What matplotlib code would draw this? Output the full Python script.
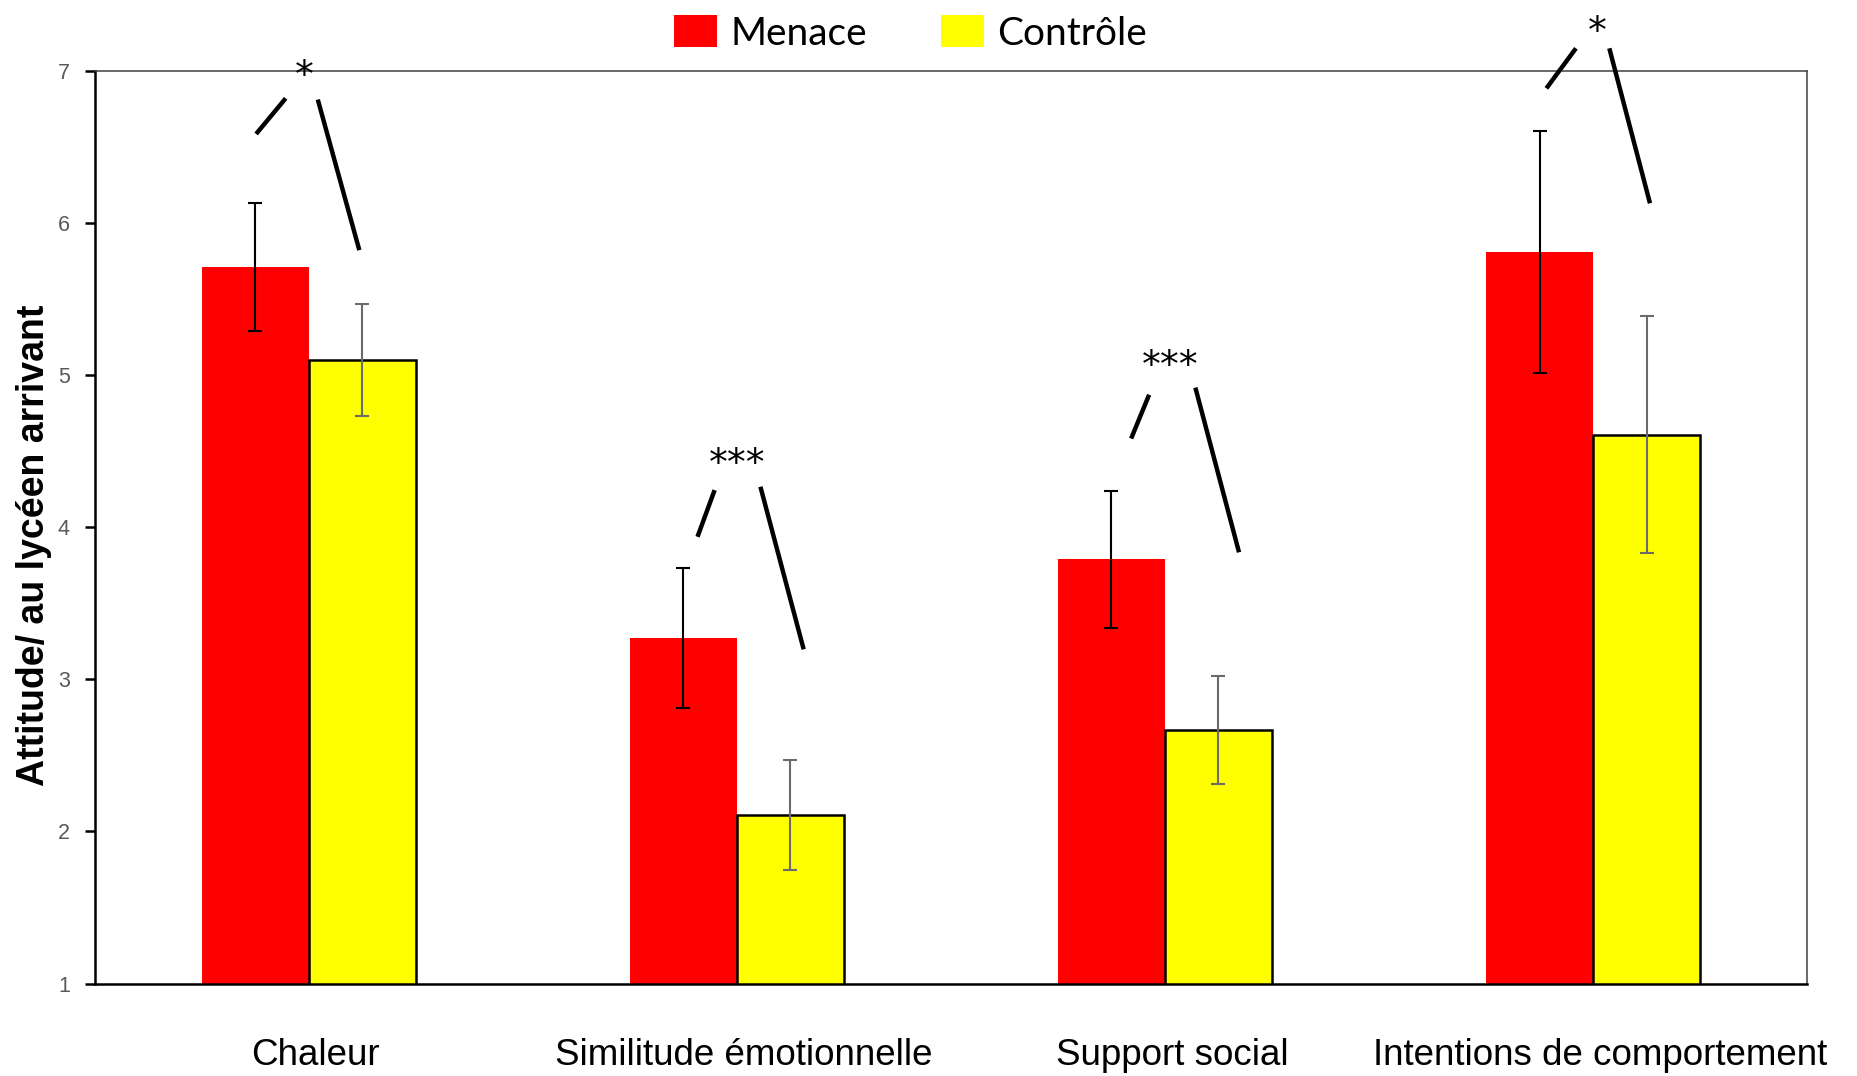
import matplotlib.pyplot as plt
import matplotlib.transforms as mtransforms
import numpy as np
from matplotlib.patches import Patch

# données
categories = ["Chaleur", "Similitude émotionnelle", "Support social",
              "Intentions de comportement"]
menace = [5.71, 3.27, 3.79, 5.81]
menace_err = [0.42, 0.46, 0.45, 0.795]
controle = [5.10, 2.11, 2.67, 4.61]
controle_err = [0.37, 0.36, 0.355, 0.78]
y_ticks = [1, 2, 3, 4, 5, 6, 7]

# seuils de significativité + segments (x0, y0, x1, y1) en unités des données
sig_labels = ["*", "***", "***", "*"]
sig_star = [(-0.01, 6.96), (1.0, 4.41), (2.012, 5.055), (3.009, 7.25)]
sig_left = [(-0.123, 6.587, -0.054, 6.821),
            (0.908, 3.938, 0.948, 4.245),
            (1.921, 4.584, 1.963, 4.872),
            (2.891, 6.887, 2.960, 7.150)]
sig_right = [(0.021, 6.813, 0.118, 5.823),
             (1.055, 4.267, 1.156, 3.198),
             (2.071, 4.919, 2.173, 3.836),
             (3.038, 7.150, 3.133, 6.131)]

fig = plt.figure(figsize=(18.58, 10.76), dpi=100)
ax = fig.add_axes([0.051, 0.0859, 0.9216, 0.848])

x = np.arange(len(categories))
w = 0.25
ax.bar(x - w / 2, menace, w, color="#FF0000", zorder=2)
ax.bar(x + w / 2, controle, w, color="#FFFF00", edgecolor="black",
       linewidth=1.8, zorder=2)
ax.errorbar(x - w / 2, menace, yerr=menace_err, fmt="none", ecolor="black",
            elinewidth=1.5, capsize=5, capthick=1.5, zorder=3)
ax.errorbar(x + w / 2, controle, yerr=controle_err, fmt="none",
            ecolor="#6b6b6b", elinewidth=1.5, capsize=5, capthick=1.5, zorder=3)

for lab, (sx, sy), l, r in zip(sig_labels, sig_star, sig_left, sig_right):
    ax.plot([l[0], l[2]], [l[1], l[3]], color="black", lw=3.2,
            clip_on=False, zorder=4, solid_capstyle="butt")
    ax.plot([r[0], r[2]], [r[1], r[3]], color="black", lw=3.2,
            clip_on=False, zorder=4, solid_capstyle="butt")
    ax.text(sx, sy, lab, ha="center", va="center", fontsize=27,
            family="DejaVu Sans", clip_on=False)

ax.set_xlim(-0.5, 3.5)
ax.set_ylim(1, 7)
ax.set_yticks(y_ticks)
ax.set_yticklabels([str(t) for t in y_ticks], color="#595959", fontsize=15.5,
                   family=["Liberation Sans Narrow", "Liberation Sans"])
ax.tick_params(axis="y", length=7, width=1.8, pad=11)
ax.set_xticks(x)
ax.set_xticklabels(categories, fontsize=26.5, family="Liberation Sans")
ax.tick_params(axis="x", length=0, pad=39)
# les libellés sont un peu décalés à droite dans l'original
shift = mtransforms.ScaledTranslation(5 / 72, 0, fig.dpi_scale_trans)
for lbl in ax.get_xticklabels():
    lbl.set_transform(lbl.get_transform() + shift)

for side in ["left", "bottom"]:
    ax.spines[side].set_linewidth(1.8)
for side in ["top", "right"]:
    ax.spines[side].set_linewidth(1.1)
    ax.spines[side].set_color("#404040")

fig.text(0.0185, 0.4935, "Attitude/ au lycéen arrivant", rotation=90,
         ha="center", va="center", fontsize=27, fontweight="bold",
         family="Liberation Sans")

handles = [Patch(facecolor="#FF0000", edgecolor="none"),
           Patch(facecolor="#FFFF00", edgecolor="none")]
fig.legend(handles, ["Menace", "Contrôle"], loc="center",
           bbox_to_anchor=(0.49, 0.969), ncol=2, frameon=False,
           prop={"family": "Lato", "size": 28},
           handlelength=1.1, handleheight=0.9, handletextpad=0.35,
           columnspacing=1.9)

fig.savefig("out.png", dpi=100)
